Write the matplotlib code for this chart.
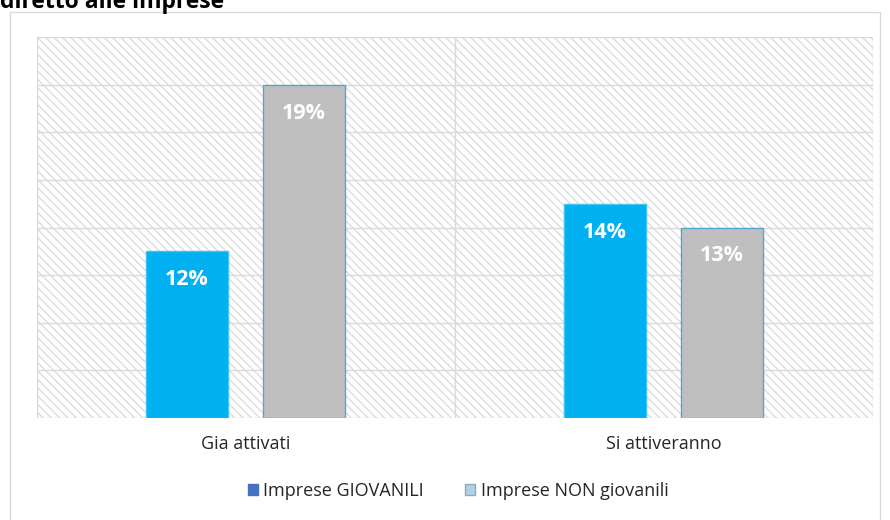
import matplotlib.pyplot as plt
from matplotlib.patches import Rectangle, Patch

plt.rcParams['font.family'] = ['Open Sans', 'DejaVu Sans']
plt.rcParams['hatch.color'] = '#dcdcdc'
plt.rcParams['hatch.linewidth'] = 1.0

categories = ['Gia attivati', 'Si attiveranno']
series = ['Imprese GIOVANILI', 'Imprese NON giovanili']
# bar heights (in gridline units), labels as printed
giovanili = [3.5, 4.5]
non_giovanili = [7.0, 4.0]
giovanili_labels = ['12%', '14%']
non_giovanili_labels = ['19%', '13%']

blue = '#00b0f0'
grey = '#bfbfbf'

fig = plt.figure(figsize=(8.9, 5.2), dpi=100)
ax = fig.add_axes([37/890, 102/520, 836/890, 381/520])

# outer chart frame
fig.patches.append(Rectangle((10/890, -0.05), 870/890, 1 - 12/520 + 0.05,
                             transform=fig.transFigure, fill=False,
                             edgecolor='#d9d9d9', linewidth=1.0, zorder=0))

# hatched plot background
ax.add_patch(Rectangle((0, 0), 1, 1, transform=ax.transAxes, facecolor='white',
                       edgecolor='#dcdcdc', hatch='\\\\\\\\', linewidth=0, zorder=0))

x = [0, 1]
w = 0.196
b1 = ax.bar([i - 0.141 for i in x], giovanili, w, color=blue, edgecolor='#3fc3f2',
            linewidth=1, zorder=3)
b2 = ax.bar([i + 0.138 for i in x], non_giovanili, w, color=grey, edgecolor='#4fa8d0',
            linewidth=1, zorder=3)

for bars, labs in [(b1, giovanili_labels), (b2, non_giovanili_labels)]:
    for r, lab in zip(bars, labs):
        ax.annotate(lab, (r.get_x() + r.get_width()/2, r.get_height()),
                    xytext=(0, -20.5), textcoords='offset points', ha='center', va='center',
                    color='white', fontsize=15.5, fontweight='bold', zorder=4)

ax.set_xlim(-0.5, 1.5)
ax.set_ylim(0, 8)
for yv in range(0, 9):
    ax.axhline(yv, color='#d9d9d9', linewidth=1, zorder=1)
for xv in [-0.5, 0.5, 1.5]:
    ax.axvline(xv, color='#d9d9d9', linewidth=1, zorder=1)

ax.set_xticks(x)
ax.set_xticklabels(categories, fontsize=13, color='#262626')
ax.tick_params(axis='x', length=0, pad=12)
ax.set_yticks([])
for s in ax.spines.values():
    s.set_visible(False)

handles = [Patch(facecolor='#4472c4', edgecolor='#4472c4'),
           Patch(facecolor='#add3e6', edgecolor='#8fa9b8')]
fig.legend(handles, series, loc='center', bbox_to_anchor=(458/890, 1 - 491/520),
           ncol=2, frameon=False, fontsize=13, handlelength=0.55, handleheight=0.55,
           handletextpad=0.3, columnspacing=2.3, labelcolor='#262626')

fig.text(0.0, 1 - 8/520, 'diretto alle imprese', fontsize=16.5, fontweight='bold',
         ha='left', va='baseline', color='black')

plt.savefig('out.png', dpi=100)
